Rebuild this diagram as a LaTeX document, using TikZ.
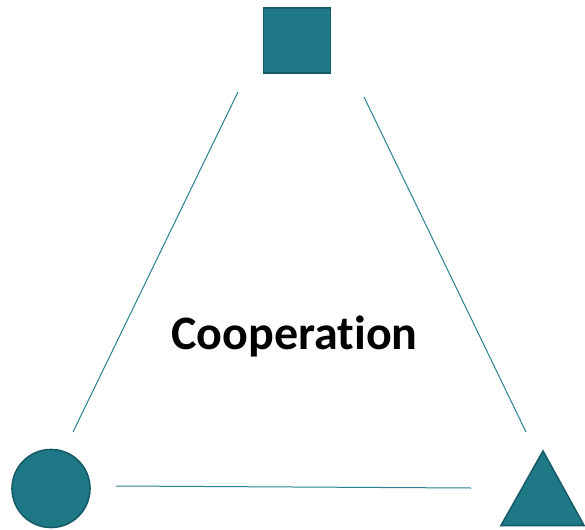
\documentclass[tikz,border=0pt]{standalone}
\usepackage{fontspec}
\setmainfont{Carlito}[Ligatures=NoCommon]
\usetikzlibrary{shapes.geometric}
\definecolor{tealfill}{RGB}{31,120,134}
\definecolor{tealedge}{RGB}{22,92,104}
\definecolor{tealline}{RGB}{40,130,145}
\tikzset{
  shapebox/.style={fill=tealfill, draw=tealedge, line width=1.6pt, inner sep=0pt},
  link/.style={draw=tealline, line width=1pt}
}
\begin{document}
\begin{tikzpicture}[x=1pt,y=-1pt]
\useasboundingbox (0,0) rectangle (585,529);
\node[shapebox, rectangle, minimum width=67pt, minimum height=65pt] (sq) at (297,40.5) {};
\node[shapebox, circle, minimum size=78pt] (ci) at (51,488.5) {};
\draw[shapebox, line join=miter] (543,451) -- (584,525.5) -- (501,525.5) -- cycle;
\node[font=\bfseries\fontsize{48}{52}\selectfont] (lab) at (294.5,336) {Cooperation};
\coordinate (l1) at (238,92);
\coordinate (l2) at (73,432);
\coordinate (r1) at (364,97);
\coordinate (r2) at (526,432);
\coordinate (b1) at (116,486);
\coordinate (b2) at (471,488);
\draw[link] (l1) -- (l2);
\draw[link] (r1) -- (r2);
\draw[link] (b1) -- (b2);
\end{tikzpicture}
\end{document}
